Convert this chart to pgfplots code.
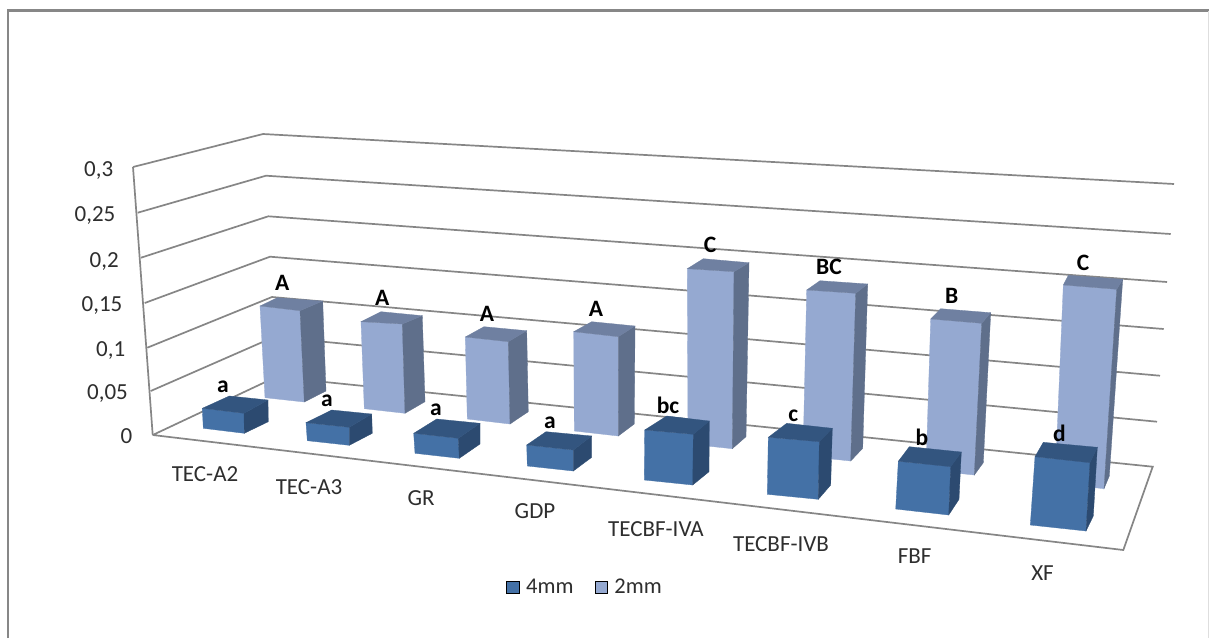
\documentclass[border=0pt]{standalone}
\usepackage{fontspec}
\setmainfont{Carlito}
\usepackage{pgfplots}
\pgfplotsset{compat=1.18}

\definecolor{frameC}{HTML}{878787}
\definecolor{gridC}{HTML}{868686}
\definecolor{txtC}{HTML}{2E2E2E}
\definecolor{lightF}{HTML}{95A9D1}
\definecolor{lightS}{HTML}{5F6F8B}
\definecolor{lightT}{HTML}{6F80A1}
\definecolor{darkF}{HTML}{4471A6}
\definecolor{darkS}{HTML}{2C4A70}
\definecolor{darkT}{HTML}{33557F}

% one bar seen in perspective: front, side and top face, all in picture pixels
% args: colour prefix, front TL, TR, BR, BL, back top left, back top right, back bottom right
\newcommand{\pbar}[8]{%
  \addplot[forget plot,fill=#1F,draw=#1F,line width=0.3pt] coordinates {#2#3#4#5} --cycle;
  \addplot[forget plot,fill=#1S,draw=#1S,line width=0.3pt] coordinates {#3#7#8#4} --cycle;
  \addplot[forget plot,fill=#1T,draw=#1T,line width=0.3pt] coordinates {#2#6#7#3} --cycle;
}
\newcommand{\gline}[1]{\addplot[forget plot,gridC,line width=1.7pt] coordinates {#1};}
\newcommand{\ticklab}[3]{\node[anchor=base east,inner sep=0pt,txtC] at (axis cs:#1,#2) {#3};}
\newcommand{\catlab}[3]{\node[anchor=base,inner sep=0pt,txtC] at (axis cs:#1,#2) {#3};}
\newcommand{\siglab}[3]{\node[anchor=base,inner sep=0pt,font=\fontsize{23.5}{28}\selectfont\bfseries] at (axis cs:#1,#2) {#3};}

\begin{document}
\begin{tikzpicture}
\fill[white] (0,0) rectangle (1209pt,638pt);
\useasboundingbox (0,0) rectangle (1209pt,638pt);
\begin{axis}[
    at={(0,0)},anchor=south west,
    scale only axis,
    width=1209pt,height=638pt,
    xmin=0,xmax=1209,ymin=0,ymax=638,
    y dir=reverse,
    hide axis,
    font=\fontsize{23}{28}\selectfont,
    legend columns=2,
    legend cell align=left,
    legend style={
        at={(axis description cs:0.4188,0.0799)},anchor=west,
        draw=none,fill=none,inner sep=0pt,outer sep=0pt,
        font=\fontsize{22.5}{27}\selectfont\color{txtC},
        /tikz/every even column/.append style={column sep=19pt},
    },
    legend image code/.code={\fill[#1] (0pt,-6pt) rectangle (12.5pt,6pt);\path (17.5pt,0pt);},
]
% chart frame
\addplot[forget plot,frameC,line width=2.5pt] coordinates {(8,638)(8,10.3)(1209,10.3)};
\addplot[forget plot,black!13,line width=1pt] coordinates {(1208,11)(1208,638)};

% walls and floor
\gline{(133,167)(263,134)(1174,184)}
\gline{(137.7,212.7)(266,175.7)(1170.7,234)}
\gline{(141,257.7)(268.3,216.3)(1167,282)}
\gline{(144.7,303)(270,256.7)(1163.7,329)}
\gline{(147.3,347.7)(272,297)(1160,375.7)}
\gline{(150.7,391)(274,337)(1157,421.7)}
\gline{(133,167)(152.7,435)}
\addplot[forget plot,gridC,line width=1.7pt] coordinates {(152.7,435)(276,377)(1152.7,466.7)(1123.3,550)(152.7,435)};

% 2mm series
\pbar{light}{(260,306)}{(300,310.7)}{(304.3,402)}{(265,397.7)}{(277.3,297.7)}{(322.7,301)}{(326,391)}
\pbar{light}{(361,321.7)}{(402.3,324)}{(405,413.3)}{(364.3,408.7)}{(381,311.7)}{(422.3,315.7)}{(425,401.7)}
\pbar{light}{(465.3,337)}{(508.3,341.7)}{(510,424)}{(467.3,419)}{(484,326.7)}{(526.7,330.7)}{(528.3,411.7)}
\pbar{light}{(573.7,331.7)}{(618.3,336.7)}{(618.3,436)}{(574.3,431)}{(591.7,321.7)}{(635,326)}{(634.3,424)}
\pbar{light}{(687.3,268.7)}{(734,271.7)}{(732.3,448.7)}{(688,444)}{(703.3,258.7)}{(749,262.7)}{(746,436.7)}
\pbar{light}{(806.7,290)}{(855.7,293.3)}{(850.7,461)}{(803,456)}{(820,280.7)}{(867.7,284)}{(862.7,448.3)}
\pbar{light}{(930.7,319)}{(981.7,323.3)}{(974.3,475)}{(926,470)}{(940.7,308.7)}{(990.7,312.7)}{(983.3,462.7)}
\pbar{light}{(1063.3,285)}{(1116.7,289.3)}{(1104,488.7)}{(1055,483.3)}{(1068.3,275.3)}{(1122.7,279.3)}{(1109.3,476)}

% 4mm series
\pbar{dark}{(202.3,408.3)}{(244,413.3)}{(244.3,433.3)}{(203.3,428.3)}{(229.3,396)}{(268,400)}{(268.3,421.7)}
\pbar{dark}{(306,422.7)}{(349.3,427.3)}{(349.3,445.3)}{(307.3,440.7)}{(331.7,410)}{(371.7,414)}{(372.3,433.3)}
\pbar{dark}{(413.7,433.3)}{(458.3,438.3)}{(459.3,458.3)}{(415,453.3)}{(436.7,419)}{(480,423.3)}{(480,444)}
\pbar{dark}{(526.7,445)}{(573.3,450)}{(573.3,471)}{(527.3,466)}{(546,431.7)}{(591.7,436)}{(591.7,457.3)}
\pbar{dark}{(644.7,430)}{(693.3,434.3)}{(692.7,485)}{(644.3,480)}{(666.7,416)}{(709.3,421)}{(709,471.7)}
\pbar{dark}{(768.3,437.3)}{(819.3,441.7)}{(818.3,499.3)}{(767.3,494.3)}{(786.7,423.3)}{(832.3,428.3)}{(830.7,485)}
\pbar{dark}{(898.3,461.3)}{(950.7,466.7)}{(948.7,515)}{(895.7,509)}{(909.3,446.7)}{(961.3,452)}{(959,499.3)}
\pbar{dark}{(1035,456.7)}{(1090,462.7)}{(1086,531)}{(1030.3,525)}{(1043.3,442.3)}{(1097.3,447.3)}{(1093.3,516)}

% value axis labels
\ticklab{113.5}{176}{0,3}
\ticklab{115.5}{221}{0,25}
\ticklab{119}{267}{0,2}
\ticklab{122.5}{311.7}{0,15}
\ticklab{125.5}{356}{0,1}
\ticklab{128}{399.3}{0,05}
\ticklab{132.5}{443}{0}

% categories
\catlab{205}{481}{TEC-A2}
\catlab{309}{494}{TEC-A3}
\catlab{421}{505}{GR}
\catlab{535}{518.3}{GDP}
\catlab{656}{536}{TECBF-IVA}
\catlab{781}{551.7}{TECBF-IVB}
\catlab{914.7}{563.3}{FBF}
\catlab{1042.5}{580}{XF}

% significance letters
\siglab{223}{392.3}{a}
\siglab{282.3}{290.7}{A}
\siglab{327}{406}{a}
\siglab{382.3}{305.7}{A}
\siglab{436}{415.3}{a}
\siglab{487}{321.7}{A}
\siglab{550}{428}{a}
\siglab{596}{316}{A}
\siglab{668}{413.3}{bc}
\siglab{710}{252.7}{C}
\siglab{793.3}{421}{c}
\siglab{829}{274.3}{BC}
\siglab{922}{445.7}{b}
\siglab{951.7}{303}{B}
\siglab{1059.5}{441.3}{d}
\siglab{1083}{270}{C}

\addlegendimage{fill=darkF}
\addlegendentry{4mm}
\addlegendimage{fill=lightF}
\addlegendentry{2mm}
\end{axis}
\end{tikzpicture}
\end{document}
